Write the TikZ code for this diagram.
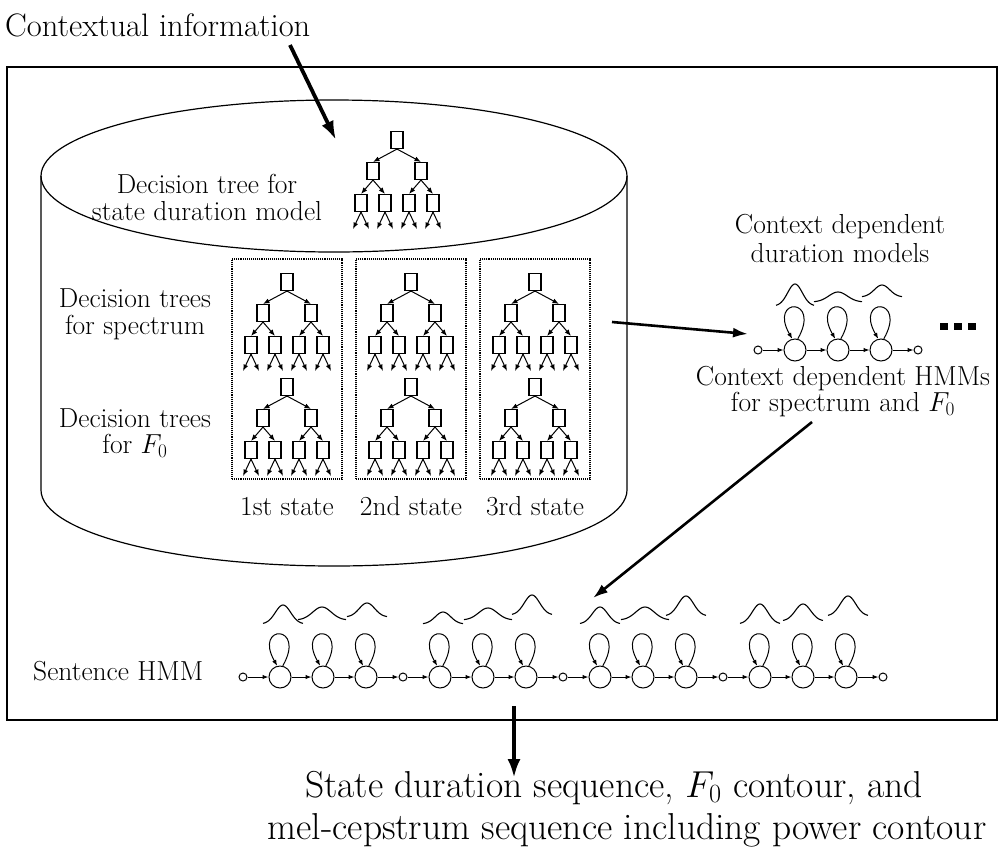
\documentclass[tikz,border=0pt]{standalone}
\usepackage{fix-cm}
\usetikzlibrary{arrows.meta,calc}
\tikzset{
 frame/.style={line width=1.2pt},
 cyl/.style={line width=1.2pt},
 tbox/.style={draw, line width=1.1pt, minimum width=12pt, minimum height=17pt, inner sep=0pt},
 tarr/.style={line width=1pt, -{Latex[length=6.5pt,width=5pt]}},
 st/.style={draw, circle, line width=1pt, minimum size=22pt, inner sep=0pt},
 sm/.style={draw, circle, line width=1pt, minimum size=8pt, inner sep=0pt},
 harr/.style={line width=1pt, -{Latex[length=6pt,width=4.5pt]}},
 bigarr/.style={line width=3.8pt, -{Latex[length=19pt,width=13pt]}},
 midarr/.style={line width=2.6pt, -{Latex[length=15pt,width=10pt]}},
 lbl/.style={font=\fontsize{27.5}{33}\selectfont, inner sep=0pt},
 big/.style={font=\fontsize{32.5}{39}\selectfont, inner sep=0pt},
 bot/.style={font=\fontsize{37.5}{44}\selectfont, inner sep=0pt},
 dbox/.style={draw, densely dotted, line width=1.1pt, minimum width=110pt, minimum height=220pt, inner sep=0pt},
 gs/.style={line width=1.1pt},
 dsq/.style={fill, minimum width=8pt, minimum height=7pt, inner sep=0pt},
}
\newcommand{\dtree}[3]{%
\begin{scope}[shift={(#2,#3)}]
 \node[tbox] (#1r) at (0,0) {};
 \node[tbox] (#1a) at (-24,31) {};
 \node[tbox] (#1b) at (24,31) {};
 \node[tbox] (#1aa) at (-36,63) {};
 \node[tbox] (#1ab) at (-12,63) {};
 \node[tbox] (#1ba) at (12,63) {};
 \node[tbox] (#1bb) at (36,63) {};
 \draw[tarr] (#1r.south) -- (#1a.north);
 \draw[tarr] (#1r.south) -- (#1b.north);
 \draw[tarr] (#1a.south) -- (#1aa.north);
 \draw[tarr] (#1a.south) -- (#1ab.north);
 \draw[tarr] (#1b.south) -- (#1ba.north);
 \draw[tarr] (#1b.south) -- (#1bb.north);
 \foreach \n/\dx in {aa/-36,ab/-12,ba/12,bb/36}{
   \coordinate (#1\n L) at (\dx-8,89);
   \coordinate (#1\n R) at (\dx+8,89);
   \draw[tarr] (#1\n.south) -- (#1\n L);
   \draw[tarr] (#1\n.south) -- (#1\n R);
 }
\end{scope}}
\newcommand{\gauss}[4]{%
 \draw[gs] plot[domain=-#4:#4, samples=41, smooth] ({#1+\x},{#2-(#2-#3)*exp(-(\x*\x)/(2*(#4/2.6)*(#4/2.6)))});}
\newcommand{\hloop}[1]{%
 \draw[harr] (#1.76) .. controls +(24,-42) and +(-24,-42) .. (#1.104);}
\begin{document}
\begin{tikzpicture}[x=1pt,y=-1pt]
\useasboundingbox (0,0) rectangle (999,855);
% frame
\draw[frame] (7,67) rectangle (997,720);
% cylinder
\draw[cyl] (334,176) ellipse [x radius=293, y radius=76];
\draw[cyl] (41,176) -- (41,490) arc[start angle=180, end angle=0, x radius=293, y radius=76] -- (627,176);
% top text and arrow
\node[big, anchor=base west] (ctx) at (5,36) {Contextual information};
\coordinate (ctxA) at (290,45);
\coordinate (ctxB) at (336,140);
\draw[bigarr] (ctxA) -- (ctxB);
% duration tree
\dtree{T}{397}{140}
\node[lbl, anchor=base] (l1) at (207,193) {Decision tree for};
\node[lbl, anchor=base] (l2) at (207,220) {state duration model};
% state boxes
\node[dbox] (db1) at (287,369) {};
\node[dbox] (db2) at (411,369) {};
\node[dbox] (db3) at (535,369) {};
\dtree{SA}{287}{282}
\dtree{SB}{411}{282}
\dtree{SC}{535}{282}
\dtree{FA}{287}{387}
\dtree{FB}{411}{387}
\dtree{FC}{535}{387}
\node[lbl, anchor=base] (l3) at (135,307) {Decision trees};
\node[lbl, anchor=base] (l4) at (135,334) {for spectrum};
\node[lbl, anchor=base] (l5) at (135,427) {Decision trees};
\node[lbl, anchor=base] (l6) at (135,453) {for $F_0$};
\node[lbl, anchor=base] (s1) at (287,515) {1st state};
\node[lbl, anchor=base] (s2) at (411,515) {2nd state};
\node[lbl, anchor=base] (s3) at (535,515) {3rd state};
% right side
\node[lbl, anchor=base] (r1) at (840,233) {Context dependent};
\node[lbl, anchor=base] (r2) at (840,262) {duration models};
\node[lbl, anchor=base] (r3) at (843,385) {Context dependent HMMs};
\node[lbl, anchor=base] (r4) at (843,411) {for spectrum and $F_0$};
\node[sm] (rs0) at (758,350) {};
\node[st] (rq1) at (795,350) {};
\node[st] (rq2) at (838,350) {};
\node[st] (rq3) at (881,350) {};
\node[sm] (rs1) at (918,350) {};
\draw[harr] (rs0) -- (rq1);
\draw[harr] (rq1) -- (rq2);
\draw[harr] (rq2) -- (rq3);
\draw[harr] (rq3) -- (rs1);
\hloop{rq1}\hloop{rq2}\hloop{rq3}
\gauss{795}{306}{284}{19}
\gauss{838}{302}{292}{24}
\gauss{882}{297}{285}{20}
\node[dsq] (d1) at (944,326) {};
\node[dsq] (d2) at (958,326) {};
\node[dsq] (d3) at (972,326) {};
\coordinate (cA) at (612,322);
\coordinate (cB) at (748,334);
\draw[midarr] (cA) -- (cB);
\coordinate (hA) at (812,422);
\coordinate (hB) at (593,598);
\draw[midarr] (hA) -- (hB);
% sentence HMM
\node[lbl, anchor=base west] (sent) at (33,680) {Sentence HMM};
\foreach \g in {0,...,4}{ \node[sm] (s\g) at (243+160*\g,677) {}; }
\foreach \g in {0,...,3}{
  \pgfmathtruncatemacro{\h}{\g+1}
  \foreach \k/\dx in {1/37,2/80,3/123}{
    \node[st] (q\g\k) at (243+160*\g+\dx,677) {};
    \hloop{q\g\k}
  }
  \draw[harr] (s\g) -- (q\g1);
  \draw[harr] (q\g1) -- (q\g2);
  \draw[harr] (q\g2) -- (q\g3);
  \draw[harr] (q\g3) -- (s\h);
}
\gauss{283}{624}{605}{20}
\gauss{322}{620}{607}{24}
\gauss{367}{617}{603}{20}
\gauss{443}{624}{612}{20}
\gauss{488}{620}{608}{24}
\gauss{532}{615}{595}{20}
\gauss{600}{624}{607}{20}
\gauss{645}{620}{607}{24}
\gauss{686}{616}{596}{20}
\gauss{760}{624}{604}{20}
\gauss{803}{621}{604}{20}
\gauss{848}{616}{596}{20}
% output
\coordinate (dA) at (514,706);
\coordinate (dB) at (514,778);
\draw[bigarr] (dA) -- (dB);
\node[bot, anchor=base] (o1) at (614,797) {State duration sequence, $F_0$ contour, and};
\node[bot, anchor=base] (o2) at (627,839) {mel-cepstrum sequence including power contour};
\end{tikzpicture}
\end{document}
